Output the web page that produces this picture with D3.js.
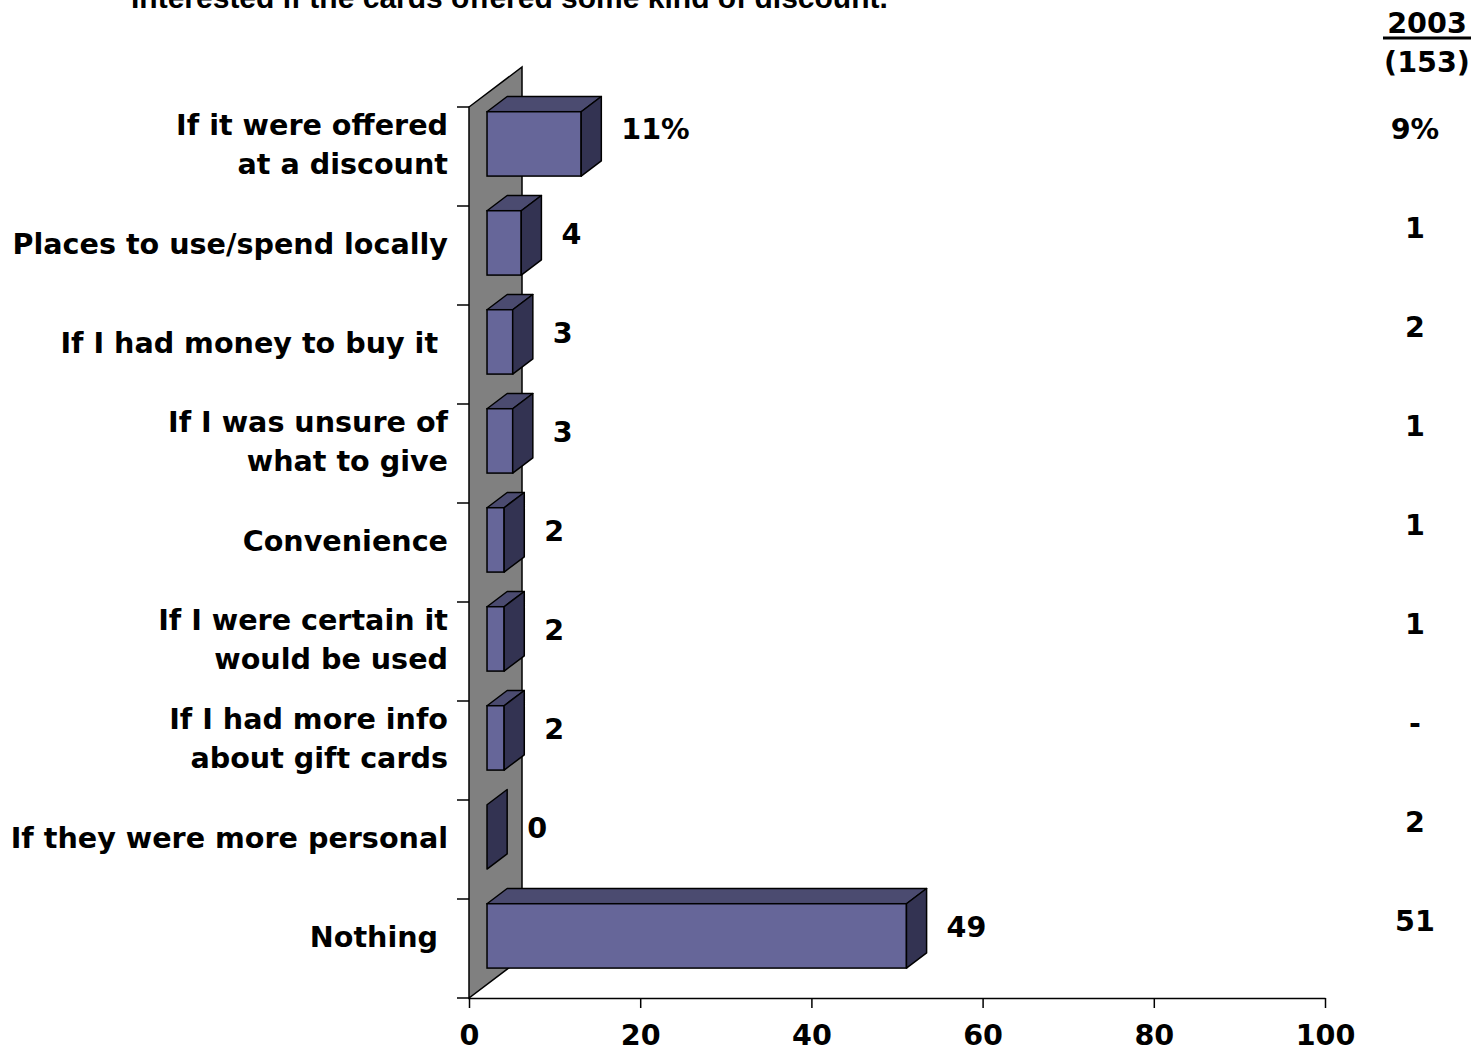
<!DOCTYPE html>
<html>
<head>
<meta charset="utf-8">
<script src="https://cdn.jsdelivr.net/npm/d3@7"></script>
<style>
  html, body { margin: 0; padding: 0; background: #ffffff; }
  svg { display: block; }
  text { font-family: "DejaVu Sans", Verdana, sans-serif; font-weight: bold; fill: #000; }
</style>
</head>
<body>
<svg id="chart" width="1478" height="1050"></svg>
<script>
// ---- data ----
const title = "Interested if the cards offered some kind of discount.";
const categories = [
  "If it were offered\nat a discount",
  "Places to use/spend locally",
  "If I had money to buy it ",
  "If I was unsure of\nwhat to give",
  "Convenience",
  "If I were certain it\nwould be used",
  "If I had more info\nabout gift cards",
  "If they were more personal",
  "Nothing "
];
const values2004 = [11, 4, 3, 3, 2, 2, 2, 0, 49];
const valueLabels = ["11%", "4", "3", "3", "2", "2", "2", "0", "49"];
const header2003 = "2003";
const base2003 = "(153)";
const labels2003 = ["9%", "1", "2", "1", "1", "1", "-", "2", "51"];
const xTicks = [0, 20, 40, 60, 80, 100];

// ---- layout ----
const svg = d3.select("#chart");
const plotLeft = 469, plotRight = 1325, plotTop = 107, plotBottom = 998;
const DX = 53, DY = -40;          // depth of the side wall
const f0 = 0.34, f1 = 0.72;       // bar front / back depth fractions
const FS = "28.6px";

const x = d3.scaleLinear().domain([0, 100]).range([plotLeft, plotRight]);
const y = d3.scaleBand().domain(categories).range([plotTop, plotBottom])
  .paddingInner(0.35).paddingOuter(0.175);

const colFront = "#666699", colTop = "#4b4b70", colSide = "#333352", colWall = "#808080";

// title (cut at top)
svg.append("text")
  .attr("x", 131).attr("y", 8)
  .style("font-family", "'Liberation Sans', Arial, sans-serif")
  .style("font-size", "30px")
  .text(title);

// side wall
const wallPts = [
  [x(0), plotBottom], [x(0), plotTop], [x(0) + DX, plotTop + DY], [x(0) + DX, plotBottom + DY]
];
svg.append("polygon")
  .attr("points", wallPts.map(p => p.join(",")).join(" "))
  .attr("fill", colWall).attr("stroke", "#000").attr("stroke-width", 1.5);

// category ticks
const step = y.step();
const boundaries = d3.range(categories.length + 1).map(i => plotTop + i * step);
svg.append("g").selectAll("line").data(boundaries).join("line")
  .attr("x1", x(0) - 12).attr("x2", x(0))
  .attr("y1", d => d).attr("y2", d => d)
  .attr("stroke", "#000").attr("stroke-width", 1.5);

// bars
const bw = y.bandwidth();
const ddx = DX * (f1 - f0), ddy = DY * (f1 - f0);
const bars = svg.append("g").selectAll("g").data(categories).join("g");
bars.each(function(c, i) {
  const g = d3.select(this);
  const v = values2004[i];
  const x0 = x(0) + DX * f0, x1 = x(v) + DX * f0;
  const y0 = y(c) + DY * f0 + 1, y1 = y0 + bw;
  const poly = pts => pts.map(p => p.join(",")).join(" ");
  if (v > 0) {
    g.append("polygon").attr("points", poly([[x0, y0], [x1, y0], [x1 + ddx, y0 + ddy], [x0 + ddx, y0 + ddy]]))
      .attr("fill", colTop).attr("stroke", "#000").attr("stroke-width", 1.5).attr("stroke-linejoin", "round");
    g.append("rect").attr("x", x0).attr("y", y0).attr("width", x1 - x0).attr("height", bw)
      .attr("fill", colFront).attr("stroke", "#000").attr("stroke-width", 1.5);
  }
  g.append("polygon").attr("points", poly([[x1, y0], [x1 + ddx, y0 + ddy], [x1 + ddx, y1 + ddy], [x1, y1]]))
    .attr("fill", colSide).attr("stroke", "#000").attr("stroke-width", 1.5).attr("stroke-linejoin", "round");
  // value label
  g.append("text")
    .attr("x", x(v) + DX * f1 + 20)
    .attr("y", y(c) + bw / 2 + DY * f1 + (i === 0 ? 1 : 7))
    .attr("dominant-baseline", "central")
    .style("font-size", FS)
    .text(valueLabels[i]);
});

// category labels
const catG = svg.append("g");
categories.forEach((c, i) => {
  const lines = c.split("\n");
  const lh = 39;
  const cy = y(c) + bw / 2 - 12;
  const t = catG.append("text")
    .attr("text-anchor", "end")
    .style("font-size", FS)
    .style("white-space", "pre");
  lines.forEach((ln, k) => {
    t.append("tspan")
      .attr("x", 448)
      .attr("y", cy + (k - (lines.length - 1) / 2) * lh)
      .attr("dominant-baseline", "central")
      .text(ln);
  });
});

// x axis
const xAxis = d3.axisBottom(x).tickValues(xTicks).tickSize(10).tickSizeOuter(0).tickPadding(17);
const ax = svg.append("g").attr("transform", `translate(0,${plotBottom})`).call(xAxis);
ax.select(".domain").attr("stroke", "#000").attr("stroke-width", 1.5);
ax.selectAll(".tick line").attr("stroke", "#000").attr("stroke-width", 1.5);
ax.selectAll(".tick text")
  .style("font-family", "'DejaVu Sans', Verdana, sans-serif")
  .style("font-weight", "bold")
  .style("font-size", FS)
  .attr("fill", "#000");

// 2003 column
const colX = 1415;
svg.append("text").attr("x", 1427).attr("y", 33).attr("text-anchor", "middle")
  .style("font-size", FS).text(header2003);
svg.append("line").attr("x1", 1383).attr("x2", 1471).attr("y1", 38).attr("y2", 38)
  .attr("stroke", "#000").attr("stroke-width", 3);
svg.append("text").attr("x", 1427).attr("y", 62).attr("text-anchor", "middle")
  .attr("dominant-baseline", "central")
  .style("font-size", FS).text(base2003);
svg.append("g").selectAll("text").data(labels2003).join("text")
  .attr("x", colX)
  .attr("y", (d, i) => y(categories[i]) + bw / 2 - 28)
  .attr("text-anchor", "middle")
  .attr("dominant-baseline", "central")
  .style("font-size", FS)
  .text(d => d);
</script>
</body>
</html>
